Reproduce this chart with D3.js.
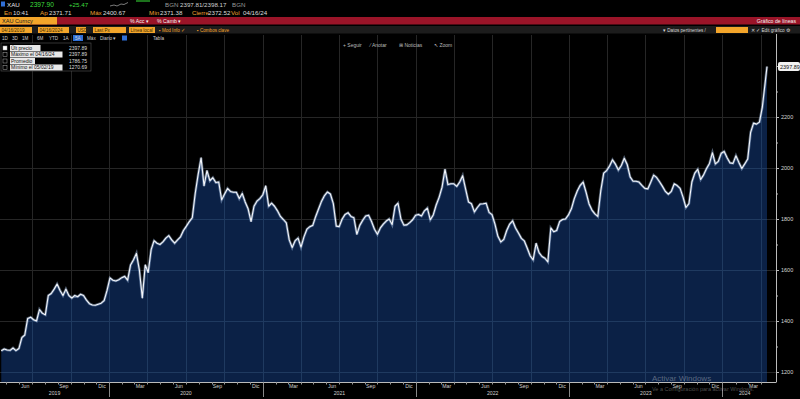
<!DOCTYPE html>
<html>
<head>
<meta charset="utf-8">
<script src="https://cdn.jsdelivr.net/npm/d3@7"></script>
<style>
  body { margin: 0; background: #000; }
  svg { display: block; font-family: "Liberation Sans", Arial, sans-serif; }
</style>
</head>
<body>
<svg id="chart" width="800" height="399"></svg>
<script>
// weekly closes (Fridays) from 04/19/2019, last value is 04/16/2024
var firstWeek = "2019-04-19";
var lastDate = "2024-04-16";
var lastPrice = 2397.89;
var weeklyClose = [
  1283, 1290, 1286, 1285, 1294, 1284, 1292, 1335, 1345, 1410,
  1415, 1405, 1400, 1445, 1430, 1424, 1500, 1508, 1525, 1545,
  1520, 1500, 1525, 1500, 1490, 1500, 1495, 1505, 1500, 1482,
  1468, 1463, 1462, 1466, 1470, 1480, 1520, 1569, 1560, 1557,
  1562, 1570, 1575, 1560, 1620, 1640, 1665, 1600, 1490, 1620,
  1590, 1680, 1715, 1705, 1700, 1710, 1725, 1735, 1718, 1705,
  1718, 1730, 1755, 1772, 1790, 1805, 1900, 1975, 2040, 1930,
  1990, 1950, 1962, 1943, 1945, 1875, 1898, 1920, 1908, 1905,
  1905, 1880, 1900, 1867, 1840, 1790, 1850, 1870, 1880, 1895,
  1930, 1850, 1862, 1850, 1832, 1810, 1798, 1785, 1718, 1688,
  1715, 1725, 1690, 1730, 1760, 1770, 1775, 1810, 1840, 1870,
  1892, 1906, 1898, 1860, 1772, 1770, 1800, 1818, 1825, 1810,
  1805, 1740, 1775, 1795, 1812, 1815, 1790, 1760, 1740, 1765,
  1780, 1792, 1800, 1778, 1850, 1862, 1800, 1776, 1777, 1786,
  1797, 1815, 1818, 1812, 1832, 1843, 1797, 1816, 1855, 1885,
  1925, 1995, 1935, 1938, 1938, 1928, 1945, 1970, 1918, 1867,
  1860, 1828, 1845, 1859, 1860, 1862, 1826, 1817, 1780, 1732,
  1710, 1720, 1755, 1780, 1793, 1765, 1745, 1724, 1714, 1685,
  1655, 1640, 1705, 1668, 1653, 1646, 1632, 1765, 1750, 1755,
  1790, 1798, 1800, 1816, 1840, 1880, 1910, 1932, 1945, 1905,
  1860, 1835, 1820, 1810, 1910, 1980, 1990, 2008, 2032, 2015,
  1992, 2010, 2038, 2014, 1965, 1948, 1948, 1945, 1932, 1920,
  1918, 1944, 1972, 1963, 1946, 1928, 1908, 1897, 1908, 1938,
  1931, 1920, 1886, 1845, 1860, 1945, 1980, 1995, 1955, 1973,
  1998, 2018, 2060, 2016, 2026, 2058, 2065, 2040, 2020, 2018,
  2048, 2022, 1998, 2016, 2035, 2140, 2176, 2172, 2180, 2240,
  2340
];
var priceTicks = [1200, 1400, 1600, 1800, 2000, 2200];
var monthNames = ["Ene", "Feb", "Mar", "Abr", "May", "Jun", "Jul", "Ago", "Sep", "Oct", "Nov", "Dic"];
var labelledMonths = [2, 5, 8, 11];   // Mar, Jun, Sep, Dic
var legendRows = [
  { label: "Últ precio", value: "2397.89" },
  { label: "Máximo el 04/16/24", value: "2397.89" },
  { label: "Promedio", value: "1786.75" },
  { label: "Mínimo el 05/02/19", value: "1270.69" }
];
var rangeButtons = ["1D", "3D", "1M", "6M", "YTD", "1A", "5A", "Máx"];

var parse = d3.timeParse("%Y-%m-%d");
var start = parse(firstWeek);
var data = weeklyClose.map((v, i) => ({ date: d3.timeDay.offset(start, 7 * i), value: v }));
data.push({ date: parse(lastDate), value: lastPrice });

var svg = d3.select("#chart");
var W = 800, H = 399;
var plotTop = 43, plotBottom = 382, axisX = 776;

var x = d3.scaleTime()
          .domain([parse("2019-04-16"), parse(lastDate)])
          .range([0, 767]);
var y = d3.scaleLinear()
          .domain([1200, 2400])
          .range([372, 66]);

svg.append("rect").attr("width", W).attr("height", H).attr("fill", "#000");

// ---- plot gridlines
var quarters = d3.timeMonth.range(parse("2019-05-01"), parse("2024-04-17"))
                 .filter(d => d.getMonth() % 3 === 0);
svg.append("g").selectAll("line")
    .data(quarters)
  .enter().append("line")
    .attr("x1", d => Math.round(x(d)) + 0.5)
    .attr("x2", d => Math.round(x(d)) + 0.5)
    .attr("y1", 35)
    .attr("y2", plotBottom)
    .attr("stroke", "#262626");
svg.append("g").selectAll("line")
    .data(priceTicks)
  .enter().append("line")
    .attr("x1", 0).attr("x2", axisX)
    .attr("y1", d => Math.round(y(d)) + 0.5)
    .attr("y2", d => Math.round(y(d)) + 0.5)
    .attr("stroke", "#262626");

// ---- area + line
var area = d3.area()
             .x(d => x(d.date))
             .y0(plotBottom)
             .y1(d => y(d.value));
var line = d3.line()
             .x(d => x(d.date))
             .y(d => y(d.value));

svg.append("path").datum(data).attr("d", area).attr("fill", "#0b2146");

// grid seen through the fill
svg.append("clipPath").attr("id", "areaClip")
  .append("path").datum(data).attr("d", area);
var inner = svg.append("g").attr("clip-path", "url(#areaClip)");
inner.selectAll(".gv").data(quarters).enter().append("line")
    .attr("x1", d => Math.round(x(d)) + 0.5).attr("x2", d => Math.round(x(d)) + 0.5)
    .attr("y1", plotTop).attr("y2", plotBottom)
    .attr("stroke", "#1f3a60");
inner.selectAll(".gh").data(priceTicks).enter().append("line")
    .attr("x1", 0).attr("x2", axisX)
    .attr("y1", d => Math.round(y(d)) + 0.5).attr("y2", d => Math.round(y(d)) + 0.5)
    .attr("stroke", "#1f3a60");

svg.append("path").datum(data).attr("d", line)
    .attr("fill", "none").attr("stroke", "rgba(170,200,240,0.45)").attr("stroke-width", 2.6);
svg.append("path").datum(data).attr("d", line)
    .attr("fill", "none").attr("stroke", "#f4f6fa").attr("stroke-width", 1.1)
    .attr("stroke-linejoin", "round");

// ---- right axis
var yAxis = d3.axisRight(y)
              .tickValues(d3.range(1200, 2401, 100))
              .tickSize(3)
              .tickFormat(d => priceTicks.includes(d) ? d : "");
var ya = svg.append("g")
    .attr("transform", "translate(" + axisX + ",0)")
    .call(yAxis);
ya.select(".domain").attr("d", "M0.5," + 34 + "V" + plotBottom).attr("stroke", "#bbb");
ya.selectAll(".tick line").attr("stroke", "#bbb").attr("x2", d => priceTicks.includes(d) ? 3 : 2);
ya.selectAll(".tick text")
    .attr("x", 5)
    .attr("fill", "#d8d8d8")
    .attr("font-size", 5.5)
    .attr("font-family", "Liberation Sans, Arial, sans-serif");

// last price tag
svg.append("rect")
    .attr("x", 778).attr("y", y(lastPrice) - 4.5)
    .attr("width", 22).attr("height", 9).attr("rx", 2)
    .attr("fill", "#f2f2f2");
svg.append("text")
    .attr("x", 780).attr("y", y(lastPrice) + 2)
    .attr("font-size", 5.5).attr("fill", "#111")
    .text(d3.format(".2f")(lastPrice));

// ---- bottom axis
svg.append("line")
    .attr("x1", 0).attr("x2", axisX + 0.5)
    .attr("y1", plotBottom + 0.5).attr("y2", plotBottom + 0.5)
    .attr("stroke", "#bbb");
var months = d3.timeMonth.range(parse("2019-05-01"), parse("2024-04-17"));
svg.append("g").selectAll("line")
    .data(months)
  .enter().append("line")
    .attr("x1", d => Math.round(x(d)) + 0.5)
    .attr("x2", d => Math.round(x(d)) + 0.5)
    .attr("y1", plotBottom)
    .attr("y2", plotBottom + 2.5)
    .attr("stroke", "#999");

var labelMonths = d3.timeMonth.range(parse("2019-05-01"), parse("2024-04-01"))
                    .filter(d => labelledMonths.includes(d.getMonth()))
                    .map(d => d3.timeDay.offset(d, 14));
svg.append("g").selectAll("text")
    .data(labelMonths)
  .enter().append("text")
    .attr("x", d => x(d))
    .attr("y", 388)
    .attr("text-anchor", "middle")
    .attr("font-size", 5.2)
    .attr("fill", "#cfcfcf")
    .text(d => monthNames[d.getMonth()]);

var years = d3.timeYear.range(parse("2020-01-01"), parse("2024-04-17"));
svg.append("g").selectAll("line")
    .data(years)
  .enter().append("line")
    .attr("x1", d => Math.round(x(d)) + 0.5)
    .attr("x2", d => Math.round(x(d)) + 0.5)
    .attr("y1", plotBottom + 2)
    .attr("y2", 397)
    .attr("stroke", "#888");
var yearSpans = d3.range(2019, 2025).map(yr => {
  var a = Math.max(0, x(new Date(yr, 0, 1)));
  var b = Math.min(767, x(new Date(yr + 1, 0, 1)));
  return { year: yr, mid: (a + b) / 2 };
});
svg.append("g").selectAll("text")
    .data(yearSpans)
  .enter().append("text")
    .attr("x", d => d.mid)
    .attr("y", 395)
    .attr("text-anchor", "middle")
    .attr("font-size", 5.2)
    .attr("fill", "#cfcfcf")
    .text(d => d.year);

// ---- legend box
var lg = svg.append("g").attr("transform", "translate(1,43)");
lg.append("rect").attr("width", 90).attr("height", 28)
    .attr("fill", "#000").attr("stroke", "#555").attr("stroke-width", 0.6);
legendRows.forEach((r, i) => {
  var ry = 2 + i * 6.5;
  lg.append("rect").attr("x", 2).attr("y", ry + 1).attr("width", 4).attr("height", 4)
      .attr("fill", i === 0 ? "#fff" : "none").attr("stroke", "#aaa").attr("stroke-width", 0.5);
  var tw = r.label.length * 2.75 + 3;
  lg.append("rect").attr("x", 9).attr("y", ry).attr("width", tw).attr("height", 6)
      .attr("fill", "#e8e8e8");
  lg.append("text").attr("x", 10).attr("y", ry + 4.8)
      .attr("font-size", 5).attr("fill", "#111").text(r.label);
  lg.append("text").attr("x", 68).attr("y", ry + 4.8)
      .attr("font-size", 5).attr("fill", "#ddd").text(r.value);
});

// ---- toolbar over the chart
var tools = [["+ Seguir", 343], ["⁄ Anotar", 370], ["⊞ Noticias", 399], ["↖ Zoom", 434]];
svg.append("g").selectAll("text")
    .data(tools)
  .enter().append("text")
    .attr("x", d => d[1]).attr("y", 47)
    .attr("font-size", 5).attr("fill", "#bbb")
    .text(d => d[0]);

// ---- header
var hdr = svg.append("g");
function txt(s, tx, ty, color, size, anchor) {
  hdr.append("text").attr("x", tx).attr("y", ty)
     .attr("font-size", size || 6.2).attr("fill", color)
     .attr("text-anchor", anchor || "start").text(s);
}
hdr.append("rect").attr("x", 1).attr("y", 1.5).attr("width", 4).attr("height", 5).attr("fill", "#2f6fd6");
txt("XAU", 7, 7, "#e6e6e6");
txt("2397.90", 30, 7, "#3ddc3d", 6.6);
txt("+25.47", 69, 7, "#3ddc3d");
hdr.append("path").attr("d", "M110,6 L114,5 L117,6 L121,4 L124,4.5 L128,2.5")
   .attr("fill", "none").attr("stroke", "#ccc").attr("stroke-width", 0.6);
hdr.append("line").attr("x1", 136).attr("x2", 150).attr("y1", 1).attr("y2", 1)
   .attr("stroke", "#2fbf2f").attr("stroke-width", 1.2);
txt("BGN", 165, 7, "#9a9a9a");
txt("2397.81/2398.17", 180, 7, "#d0d0d0");
txt("BGN", 232, 7, "#9a9a9a");

var infoRow = [["En", 4, "#f0a030"], ["10:41", 13, "#ddd"], ["Ap", 40, "#f0a030"], ["2371.71", 49, "#ddd"],
               ["Máx", 90, "#f0a030"], ["2400.67", 103, "#ddd"], ["Mín", 149, "#f0a030"], ["2371.38", 160, "#ddd"],
               ["Cierre", 192, "#f0a030"], ["2372.52", 208, "#ddd"], ["Vol", 231, "#f0a030"], ["04/16/24", 243, "#ddd"]];
infoRow.forEach(d => txt(d[0], d[1], 15, d[2]));

hdr.append("rect").attr("x", 0).attr("y", 17).attr("width", W).attr("height", 7.5).attr("fill", "#9a1428");
hdr.append("rect").attr("x", 0).attr("y", 17).attr("width", 57).attr("height", 7.5).attr("fill", "#f3a52a");
txt("XAU Curncy", 2, 23, "#222", 5.6);
txt("% Acc ▾", 130, 23, "#f2f2f2", 5.2);
txt("% Camb ▾", 157, 23, "#f2f2f2", 5.2);
txt("Gráfico de líneas", 796, 23, "#f2f2f2", 5.2, "end");

hdr.append("rect").attr("x", 0).attr("y", 26).attr("width", W).attr("height", 7.5).attr("fill", "#1c1c1c");
var boxes = [[0, 32, "04/16/2019"], [38, 31, "04/16/2024"], [76, 10, "USD"], [93, 33, "Last Px"], [129, 26, "Línea local"]];
boxes.forEach(b => {
  hdr.append("rect").attr("x", b[0]).attr("y", 27).attr("width", b[1]).attr("height", 6).attr("fill", "#f3a52a");
  txt(b[2], b[0] + 1.5, 32, "#3a2a00", 4.6);
});
txt("▪ Mod Info ✓", 159, 32, "#f3a52a", 4.6);
txt("▪ Combos clave", 197, 32, "#f3a52a", 4.6);
txt("▾ Datos pertinentes  /", 663, 32, "#d8d8d8", 4.6);
hdr.append("rect").attr("x", 716).attr("y", 27).attr("width", 32).attr("height", 6).attr("fill", "#f3a52a");
txt("✕  ✓ Edit gráfico  ⚙", 751, 32, "#d8d8d8", 4.6);

var bx = [2, 12, 22, 37, 49, 63, 75, 87];
rangeButtons.forEach((b, i) => {
  if (b === "5A") {
    hdr.append("rect").attr("x", bx[i] - 2).attr("y", 35).attr("width", 10).attr("height", 6).attr("fill", "#2f6fd6");
  }
  txt(b, bx[i], 40, "#cfcfcf", 4.6);
});
txt("Diario ▾", 100, 40, "#cfcfcf", 4.6);
hdr.append("rect").attr("x", 122).attr("y", 35.5).attr("width", 5).attr("height", 5).attr("fill", "#2f6fd6");
txt("Tabla", 153, 40, "#cfcfcf", 4.6);

// ---- Windows watermark
svg.append("text").attr("x", 652).attr("y", 381)
    .attr("font-size", 8).attr("fill", "rgba(255,255,255,0.32)").text("Activar Windows");
svg.append("text").attr("x", 652).attr("y", 391)
    .attr("font-size", 5.5).attr("fill", "rgba(255,255,255,0.3)").text("Ve a Configuración para activar Windows.");
</script>
</body>
</html>
